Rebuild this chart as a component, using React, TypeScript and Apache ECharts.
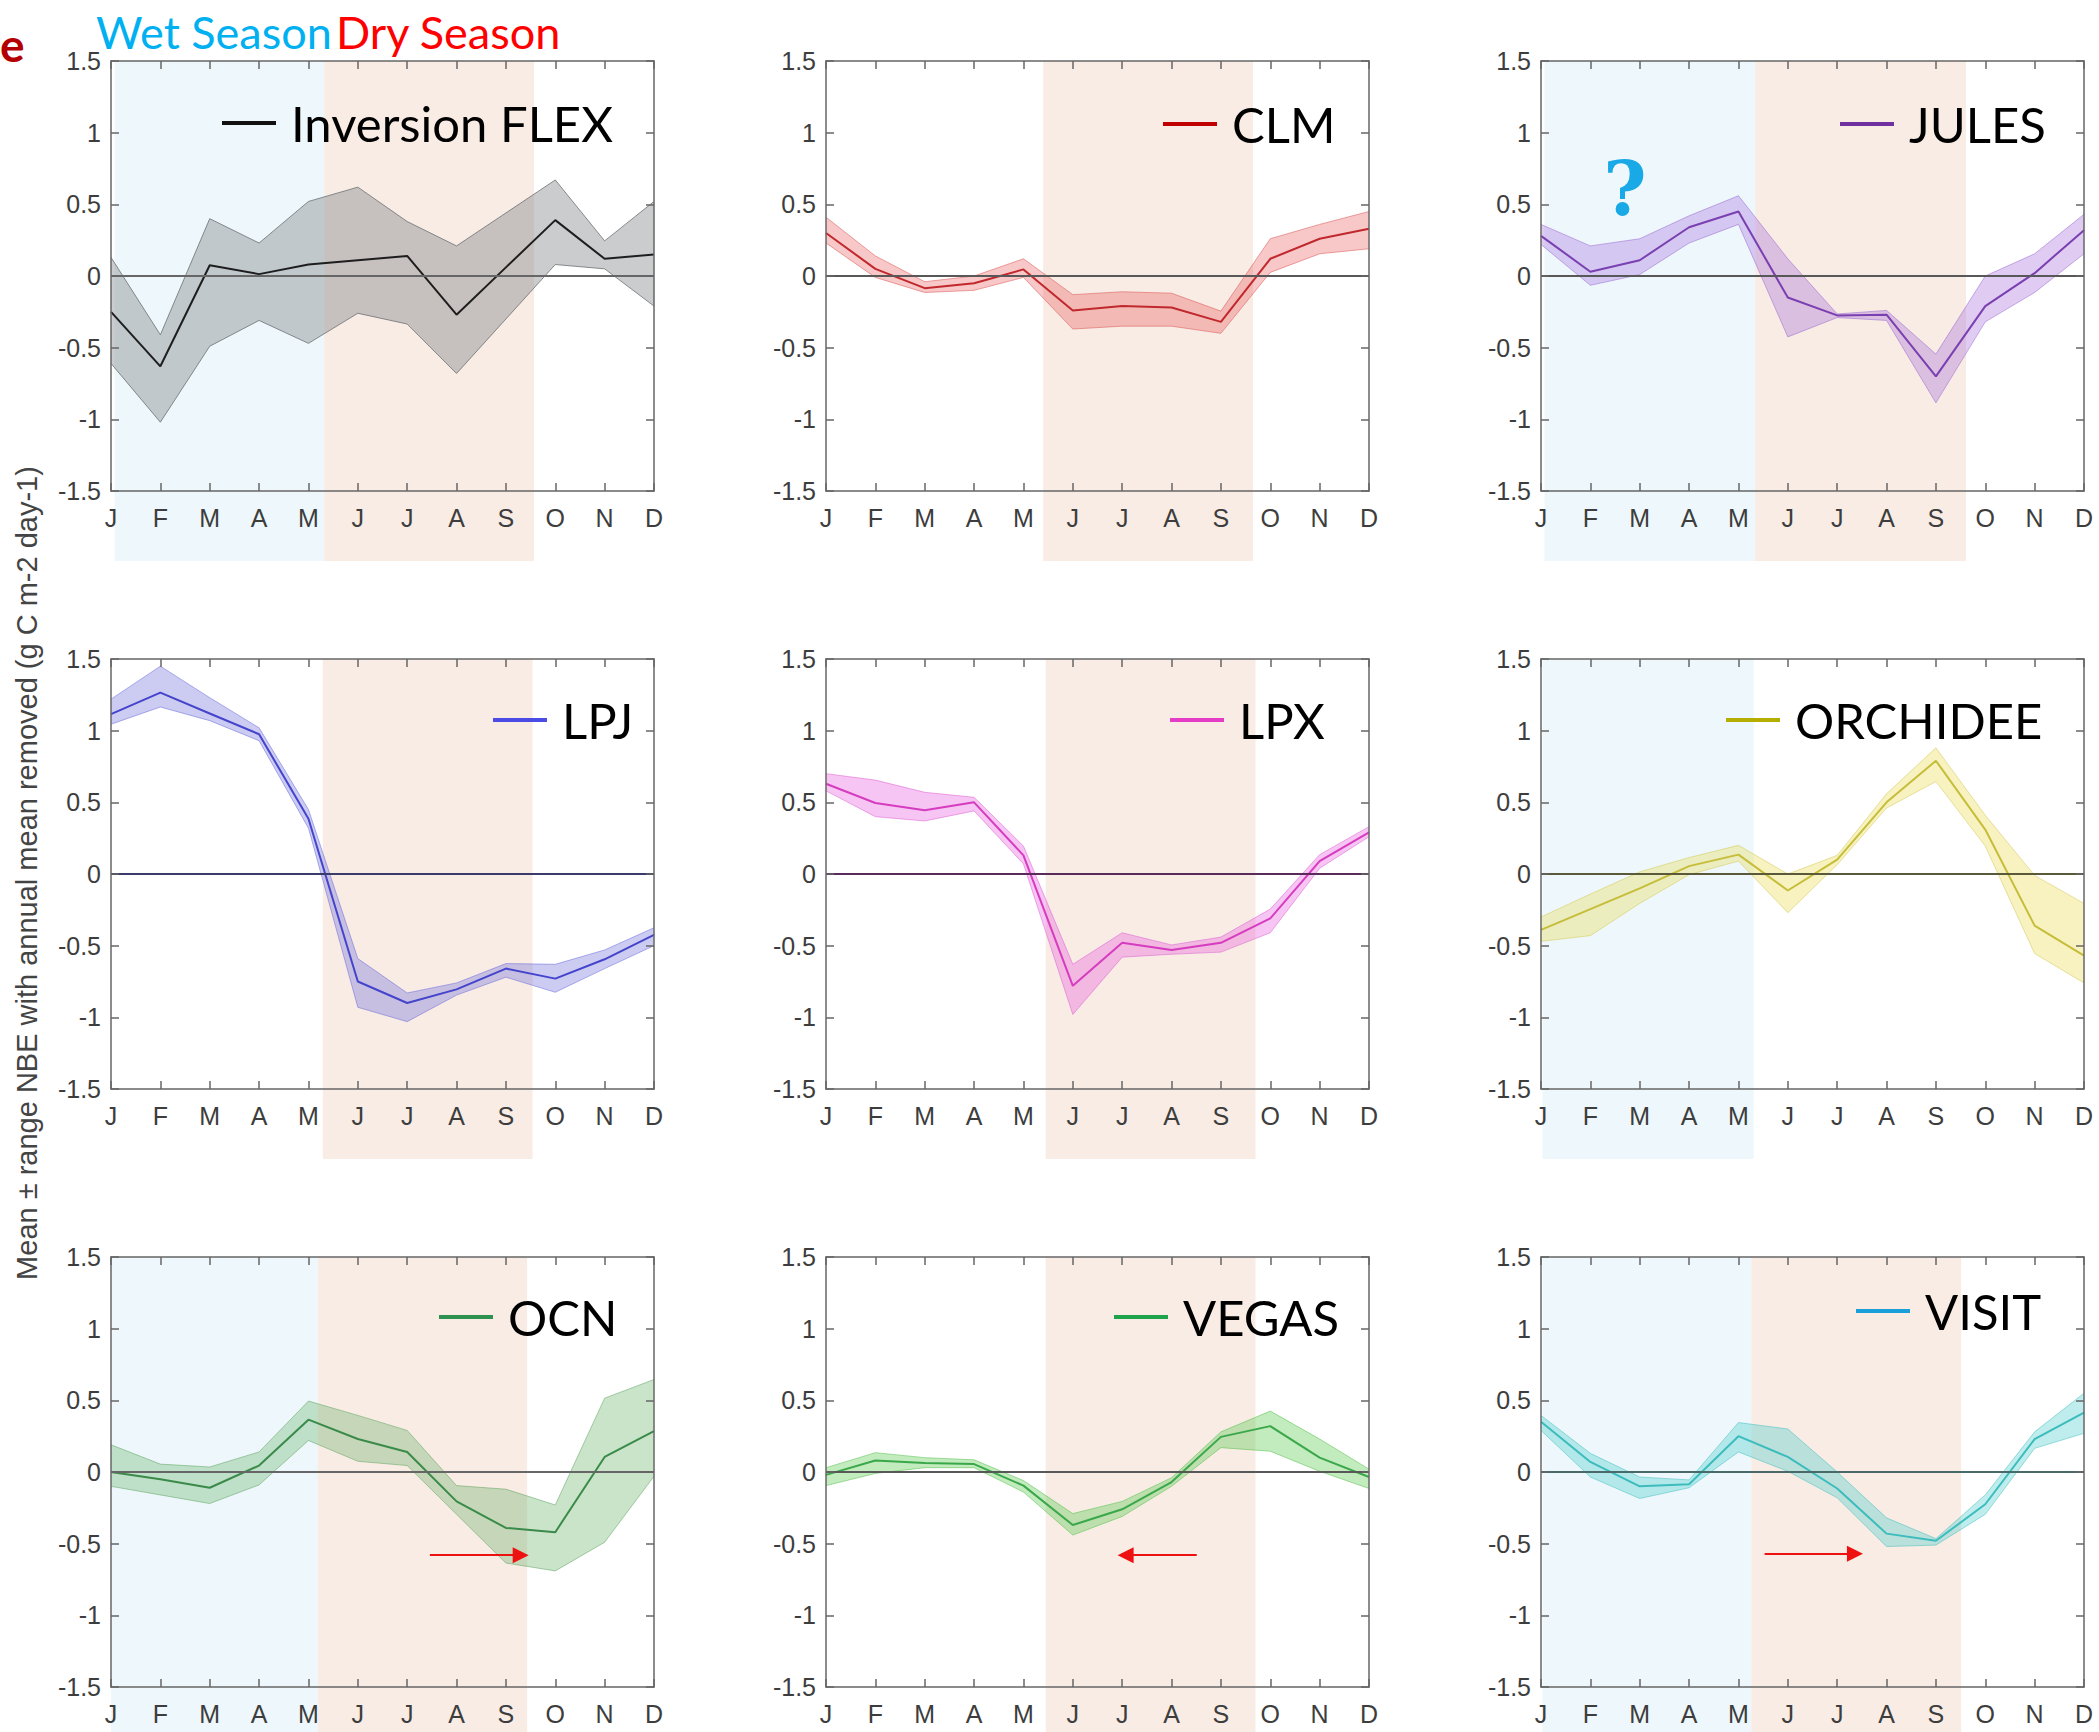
import React, { useEffect, useRef } from "react";
import * as echarts from "echarts";

// ---------------- data ----------------
const MONTHS = ["J", "F", "M", "A", "M", "J", "J", "A", "S", "O", "N", "D"];
const Y_TICKS = [-1.5, -1, -0.5, 0, 0.5, 1, 1.5];

const MODEL_NAMES = ["Inversion FLEX", "CLM", "JULES", "LPJ", "LPX", "ORCHIDEE", "OCN", "VEGAS", "VISIT"];

const FLEX_MEAN = [-0.25, -0.63, 0.075, 0.013, 0.08, 0.11, 0.14, -0.27, 0.06, 0.39, 0.12, 0.15];
const FLEX_UP = [0.13, -0.41, 0.4, 0.23, 0.52, 0.62, 0.38, 0.21, 0.44, 0.67, 0.245, 0.52];
const FLEX_LO = [-0.61, -1.02, -0.49, -0.31, -0.47, -0.26, -0.335, -0.68, -0.3, 0.08, 0.05, -0.21];

const CLM_MEAN = [0.3, 0.05, -0.085, -0.05, 0.046, -0.24, -0.21, -0.22, -0.32, 0.12, 0.26, 0.33];
const CLM_UP = [0.41, 0.14, -0.04, 0.0, 0.12, -0.13, -0.11, -0.12, -0.245, 0.26, 0.36, 0.45];
const CLM_LO = [0.23, -0.01, -0.115, -0.1, -0.01, -0.37, -0.35, -0.35, -0.4, 0.025, 0.155, 0.19];

const JULES_MEAN = [0.28, 0.03, 0.11, 0.34, 0.45, -0.15, -0.275, -0.27, -0.7, -0.21, 0.02, 0.32];
const JULES_UP = [0.36, 0.21, 0.26, 0.42, 0.56, 0.12, -0.265, -0.24, -0.545, 0.0, 0.155, 0.43];
const JULES_LO = [0.22, -0.065, 0.01, 0.23, 0.36, -0.425, -0.29, -0.31, -0.885, -0.32, -0.115, 0.155];

const LPJ_MEAN = [1.115, 1.265, 1.12, 0.975, 0.385, -0.75, -0.9, -0.805, -0.66, -0.73, -0.595, -0.425];
const LPJ_UP = [1.22, 1.45, 1.23, 1.02, 0.45, -0.59, -0.83, -0.76, -0.625, -0.63, -0.53, -0.375];
const LPJ_LO = [1.045, 1.165, 1.07, 0.93, 0.32, -0.93, -1.03, -0.845, -0.72, -0.825, -0.66, -0.5];

const LPX_MEAN = [0.63, 0.495, 0.445, 0.5, 0.13, -0.78, -0.48, -0.53, -0.48, -0.31, 0.09, 0.29];
const LPX_UP = [0.7, 0.655, 0.57, 0.535, 0.195, -0.63, -0.41, -0.495, -0.44, -0.245, 0.135, 0.33];
const LPX_LO = [0.58, 0.4, 0.37, 0.44, 0.07, -0.98, -0.58, -0.56, -0.545, -0.41, 0.04, 0.26];

const ORCH_MEAN = [-0.39, -0.245, -0.1, 0.055, 0.135, -0.115, 0.1, 0.5, 0.79, 0.31, -0.36, -0.57];
const ORCH_UP = [-0.3, -0.14, 0.015, 0.115, 0.2, 0.0, 0.13, 0.56, 0.88, 0.41, -0.01, -0.205];
const ORCH_LO = [-0.47, -0.43, -0.205, -0.005, 0.09, -0.27, 0.065, 0.46, 0.645, 0.195, -0.555, -0.76];

const OCN_MEAN = [0.0, -0.05, -0.11, 0.045, 0.365, 0.23, 0.14, -0.205, -0.39, -0.42, 0.105, 0.285];
const OCN_UP = [0.19, 0.055, 0.035, 0.14, 0.495, 0.395, 0.29, -0.095, -0.12, -0.23, 0.515, 0.645];
const OCN_LO = [-0.1, -0.16, -0.22, -0.09, 0.22, 0.075, 0.045, -0.295, -0.635, -0.69, -0.49, -0.03];

const VEGAS_MEAN = [-0.02, 0.08, 0.063, 0.055, -0.095, -0.37, -0.26, -0.07, 0.245, 0.32, 0.1, -0.035];
const VEGAS_UP = [0.03, 0.135, 0.1, 0.085, -0.06, -0.29, -0.205, -0.04, 0.28, 0.425, 0.23, 0.02];
const VEGAS_LO = [-0.095, -0.01, 0.03, 0.03, -0.14, -0.44, -0.31, -0.1, 0.17, 0.145, 0.005, -0.115];

const VISIT_MEAN = [0.35, 0.07, -0.1, -0.085, 0.25, 0.105, -0.115, -0.43, -0.48, -0.225, 0.23, 0.415];
const VISIT_UP = [0.395, 0.13, -0.035, -0.055, 0.345, 0.3, 0.0, -0.32, -0.465, -0.16, 0.28, 0.55];
const VISIT_LO = [0.29, -0.035, -0.185, -0.11, 0.14, 0.005, -0.18, -0.52, -0.51, -0.295, 0.165, 0.27];

const MEANS = [FLEX_MEAN, CLM_MEAN, JULES_MEAN, LPJ_MEAN, LPX_MEAN, ORCH_MEAN, OCN_MEAN, VEGAS_MEAN, VISIT_MEAN];
const UPPERS = [FLEX_UP, CLM_UP, JULES_UP, LPJ_UP, LPX_UP, ORCH_UP, OCN_UP, VEGAS_UP, VISIT_UP];
const LOWERS = [FLEX_LO, CLM_LO, JULES_LO, LPJ_LO, LPX_LO, ORCH_LO, OCN_LO, VEGAS_LO, VISIT_LO];

// season shading extents, in month-index units (null = none)
const WET_RANGES: (number[] | null)[] = [[0.07, 4.32], null, [0.07, 4.34], null, null, [0.03, 4.31], [0, 4.19], null, [0.03, 4.26]];
const DRY_RANGES: (number[] | null)[] = [[4.32, 8.57], [4.4, 8.65], [4.34, 8.61], [4.29, 8.54], [4.45, 8.7], null, [4.19, 8.43], [4.45, 8.7], [4.26, 8.51]];

// red arrows: [panel, xStart, xEnd, y]
const ARROWS = [
  [6, 6.46, 8.3, -0.58],
  [7, 7.51, 6.07, -0.58],
  [8, 4.53, 6.36, -0.57],
];
// question mark annotation: [panel, x, y]
const QUESTION = [2, 1.7, 0.61];

// ---------------- styles ----------------
const LINE_COLORS = ["#1e1e1e", "#c0282d", "#7a3fb0", "#4444cc", "#d63cbf", "#c6bd3a", "#3a8a4a", "#3aa84a", "#3cbcbc"];
const LEGEND_COLORS = ["#111111", "#c00000", "#7030a0", "#4b4be6", "#e43cc4", "#b5ad00", "#2f9150", "#1fa34a", "#1b9fd8"];
const BAND_COLORS = [
  "rgba(128,134,138,0.42)",
  "rgba(232,70,70,0.30)",
  "rgba(160,100,220,0.33)",
  "rgba(100,100,220,0.33)",
  "rgba(230,80,220,0.33)",
  "rgba(230,215,60,0.32)",
  "rgba(90,170,90,0.32)",
  "rgba(80,200,70,0.35)",
  "rgba(60,200,200,0.33)",
];
const EDGE_COLORS = [
  "rgba(100,105,108,0.75)",
  "rgba(220,90,90,0.55)",
  "rgba(150,100,210,0.5)",
  "rgba(100,100,220,0.5)",
  "rgba(220,90,210,0.5)",
  "rgba(210,200,80,0.5)",
  "rgba(90,160,90,0.5)",
  "rgba(80,190,70,0.5)",
  "rgba(60,190,190,0.5)",
];
const ZERO_COLORS = ["#666666", "#585858", "#585858", "#3b3b6b", "#5a2a5a", "#5a5a3a", "#666666", "#585858", "#4a6a6a"];
const WET_COLOR = "rgba(232,245,251,0.75)";
const DRY_COLOR = "rgba(244,224,212,0.6)";

const COL_LEFT = [111, 826, 1541];
const ROW_TOP = [61, 659, 1257];
const PLOT_W = 543;
const PLOT_H = 430;
const SHADE_H = [500, 500, 475];
// legend line start x, legend line centre y
const LEGEND_POS = [
  [222, 123],
  [1163, 124],
  [1840, 124],
  [493, 720],
  [1170, 720],
  [1726, 720],
  [439, 1317],
  [1114, 1317],
  [1856, 1311],
];

const AXIS_COLOR = "#666666";
const LABEL_COLOR = "#3d3d3d";
const TICK_FONT = "Liberation Sans";

function buildOption() {
  const n = MODEL_NAMES.length;
  const grids: any[] = [];
  const xAxes: any[] = [];
  const yAxes: any[] = [];
  const series: any[] = [];
  const legends: any[] = [];

  const frameLine = { show: true, onZero: false, lineStyle: { color: AXIS_COLOR, width: 1.5 } };
  const tick = { show: true, inside: true, length: 8, lineStyle: { color: AXIS_COLOR, width: 1.5 } };

  for (let i = 0; i < n; i++) {
    const row = Math.floor(i / 3);
    const col = i % 3;
    grids[i] = { left: COL_LEFT[col], top: ROW_TOP[row], width: PLOT_W, height: PLOT_H };
    grids[n + i] = { left: COL_LEFT[col], top: ROW_TOP[row], width: PLOT_W, height: SHADE_H[row] };

    xAxes[i] = {
      type: "value", gridIndex: i, min: 0, max: 11, interval: 1, position: "bottom", z: 6,
      axisLine: frameLine, axisTick: tick, splitLine: { show: false },
      axisLabel: {
        formatter: (v: number) => MONTHS[Math.round(v)] ?? "",
        fontSize: 25, color: LABEL_COLOR, fontFamily: TICK_FONT, margin: 14,
      },
    };
    xAxes[n + i] = {
      type: "value", gridIndex: i, min: 0, max: 11, interval: 1, position: "top", z: 6,
      axisLine: frameLine, axisTick: tick, splitLine: { show: false }, axisLabel: { show: false },
    };
    xAxes[2 * n + i] = { type: "value", gridIndex: n + i, min: 0, max: 11, show: false };

    yAxes[i] = {
      type: "value", gridIndex: i, min: -1.5, max: 1.5, interval: 0.5, position: "left", z: 6,
      axisLine: frameLine, axisTick: tick, splitLine: { show: false },
      axisLabel: {
        formatter: (v: number) => {
          const t = Y_TICKS.find((k) => Math.abs(k - v) < 1e-6);
          return t === undefined ? "" : String(t);
        },
        fontSize: 25, color: LABEL_COLOR, fontFamily: TICK_FONT, margin: 10,
      },
    };
    yAxes[n + i] = {
      type: "value", gridIndex: i, min: -1.5, max: 1.5, interval: 0.5, position: "right", z: 6,
      axisLine: frameLine, axisTick: tick, splitLine: { show: false }, axisLabel: { show: false },
    };
    yAxes[2 * n + i] = { type: "value", gridIndex: n + i, min: 0, max: 1, show: false };

    // season shading
    const areas: any[] = [];
    const wet = WET_RANGES[i];
    const dry = DRY_RANGES[i];
    if (wet) areas.push([{ xAxis: wet[0], itemStyle: { color: WET_COLOR } }, { xAxis: wet[1] }]);
    if (dry) areas.push([{ xAxis: dry[0], itemStyle: { color: DRY_COLOR } }, { xAxis: dry[1] }]);
    series.push({
      type: "line", name: "shade" + i, xAxisIndex: 2 * n + i, yAxisIndex: 2 * n + i,
      data: [], z: 1, silent: true,
      markArea: { silent: true, data: areas, label: { show: false } },
    });

    const mean = MEANS[i];
    const up = UPPERS[i];
    const lo = LOWERS[i];

    // zero reference line
    series.push({
      type: "line", name: "zero" + i, xAxisIndex: i, yAxisIndex: i, data: [], z: 2, silent: true,
      markLine: {
        silent: true, symbol: "none", label: { show: false },
        lineStyle: { color: ZERO_COLORS[i], width: 2.2, type: "solid" },
        data: [{ yAxis: 0 }],
      },
    });

    // min-max band as one polygon built through the axes
    const bandColor = BAND_COLORS[i];
    series.push({
      type: "custom", name: "band" + i, xAxisIndex: i, yAxisIndex: i, z: 3, silent: true,
      data: up.map((v, k) => [k, v, lo[k]]),
      encode: { x: 0, y: [1, 2] },
      renderItem: (params: any, api: any) => {
        if (params.dataIndex !== 0) return null;
        const pts: number[][] = [];
        for (let k = 0; k < up.length; k++) pts.push(api.coord([k, up[k]]));
        for (let k = lo.length - 1; k >= 0; k--) pts.push(api.coord([k, lo[k]]));
        return { type: "polygon", shape: { points: pts }, style: { fill: bandColor } };
      },
    });
    // band edges
    series.push({
      type: "line", name: "up-edge" + i, xAxisIndex: i, yAxisIndex: i,
      data: up.map((v, k) => [k, v]), symbol: "none",
      lineStyle: { color: EDGE_COLORS[i], width: 1 }, z: 3, silent: true,
    });
    series.push({
      type: "line", name: "lo-edge" + i, xAxisIndex: i, yAxisIndex: i,
      data: lo.map((v, k) => [k, v]), symbol: "none",
      lineStyle: { color: EDGE_COLORS[i], width: 1 }, z: 3, silent: true,
    });

    // mean line
    const meanSeries: any = {
      type: "line", name: MODEL_NAMES[i], xAxisIndex: i, yAxisIndex: i,
      data: mean.map((v, k) => [k, v]), symbol: "none",
      lineStyle: { color: LINE_COLORS[i], width: 2 }, itemStyle: { color: LINE_COLORS[i] }, z: 4,
    };
    const arrows = ARROWS.filter((a) => a[0] === i);
    if (arrows.length) {
      meanSeries.markLine = {
        silent: true, symbol: ["none", "triangle"], symbolSize: 16, label: { show: false },
        lineStyle: { color: "#ee1111", width: 2, type: "solid" },
        data: arrows.map((a) => [{ coord: [a[1], a[3]] }, { coord: [a[2], a[3]] }]),
      };
    }
    if (QUESTION[0] === i) {
      meanSeries.markPoint = {
        silent: true,
        data: [{
          coord: [QUESTION[1], QUESTION[2]], symbol: "circle", symbolSize: 1,
          itemStyle: { color: "rgba(0,0,0,0)" },
          label: {
            show: true, position: "inside", formatter: "?", fontSize: 74, fontWeight: "bold",
            color: "#19a9e6", fontFamily: "DejaVu Serif",
          },
        }],
      };
    }
    series.push(meanSeries);

    legends.push({
      show: true, selectedMode: false, orient: "horizontal", padding: 0,
      left: LEGEND_POS[i][0], top: LEGEND_POS[i][1] - 37,
      itemWidth: 54, itemHeight: 4, icon: "rect",
      data: [{ name: MODEL_NAMES[i], itemStyle: { color: LEGEND_COLORS[i] } }],
      textStyle: { fontSize: 49, fontFamily: "Lato", color: "#000", lineHeight: 56, padding: [0, 0, 18, 10] },
    });
  }

  const graphic = [
    {
      type: "text", x: 0, y: 44, silent: true,
      style: { text: "e", fontSize: 46, fontWeight: "bold", fontFamily: "Lato", fill: "#b30000", verticalAlign: "middle" },
    },
    {
      type: "text", x: 96, y: 32, silent: true,
      style: { text: "Wet Season", fontSize: 45, fontFamily: "Lato", fill: "#00b0f0", verticalAlign: "middle" },
    },
    {
      type: "text", x: 336, y: 32, silent: true,
      style: { text: "Dry Season", fontSize: 45, fontFamily: "Lato", fill: "#ff0000", verticalAlign: "middle" },
    },
    {
      type: "text", x: 27, y: 873, rotation: Math.PI / 2, silent: true,
      style: {
        text: "Mean \u00b1 range NBE with annual mean removed (g C m-2 day-1)",
        fontSize: 29, fontFamily: TICK_FONT, fill: "#444444", align: "center", verticalAlign: "middle",
      },
    },
  ];

  return {
    animation: false,
    backgroundColor: "#ffffff",
    grid: grids,
    xAxis: xAxes,
    yAxis: yAxes,
    series,
    legend: legends,
    graphic,
  };
}

export default function App() {
  const ref = useRef<HTMLDivElement>(null);
  useEffect(() => {
    document.body.style.margin = "0";
    document.body.style.overflow = "hidden";
    if (!ref.current) return;
    const chart = echarts.init(ref.current, undefined, { renderer: "svg" });
    chart.setOption(buildOption() as any);
    return () => chart.dispose();
  }, []);
  return <div ref={ref} style={{ width: 2099, height: 1732, background: "#fff" }} />;
}
